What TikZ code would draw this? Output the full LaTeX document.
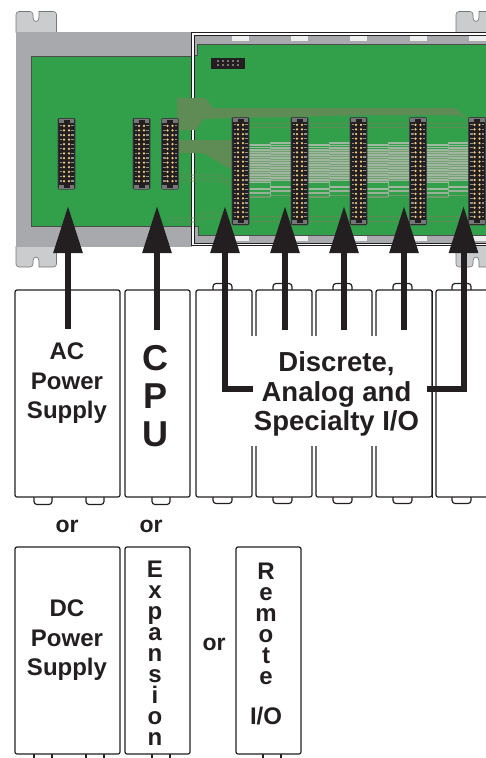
\documentclass[tikz,border=0pt]{standalone}
\usepackage{fontspec}
\setmainfont{Liberation Sans}
\usetikzlibrary{arrows.meta}
\definecolor{boardgreen}{HTML}{329F4B}
\definecolor{tracegreen}{HTML}{5E8C54}
\definecolor{bandgreen}{HTML}{74A274}
\definecolor{stripegreen}{HTML}{A0B8A0}
\definecolor{railgray}{HTML}{A7A9AC}
\definecolor{eargray}{HTML}{CBCCCE}
\definecolor{inkblack}{HTML}{231F20}
\definecolor{pingold}{HTML}{F7CE7E}
% slot on the board: name, centre x, top y, number of pin rows
\newcommand{\slotnode}[4]{
	\pgfmathsetmacro{\slotlen}{#4*4.6+11}
	\node[slotbox, minimum height=\slotlen pt, anchor=north] (#1) at (#2,#3) {};
	\fill[railgray!70!black] ([xshift=1pt,yshift=-1pt]#1.north west) rectangle ([xshift=-1pt,yshift=-5pt]#1.north east);
	\fill[railgray!70!black] ([xshift=1pt,yshift=1pt]#1.south west) rectangle ([xshift=-1pt,yshift=5pt]#1.south east);
	\fill[inkblack] ([xshift=-3pt,yshift=-2pt]#1.north) rectangle ([xshift=3pt,yshift=-5pt]#1.north);
	\fill[inkblack] ([xshift=-3pt,yshift=2pt]#1.south) rectangle ([xshift=3pt,yshift=5pt]#1.south);
	\foreach \row in {1,...,#4} {
		\draw[railgray!85!black, line width=1.1pt] (#2-7,#3+3.2+\row*4.6) -- (#2-4.5,#3+3.2+\row*4.6);
		\draw[railgray!85!black, line width=1.1pt] (#2+4.5,#3+3.2+\row*4.6) -- (#2+7,#3+3.2+\row*4.6);
		\fill[pingold] (#2-2.5,#3+3.2+\row*4.6) circle (1.25pt);
		\fill[pingold] (#2+2.5,#3+3.2+\row*4.6) circle (1.25pt);
	}
}
% mounting ear, drawn from its outer edge towards the rail
\newcommand{\earpath}{
	\draw[fill=eargray, draw=railgray!70!black, line width=0.6pt, rounded corners=3pt]
		(0,21) -- (0,0) -- (17,0) [sharp corners] -- (17,6) arc (180:360:3 and -4) -- (23,0)
		[rounded corners=3pt] -- (40.5,0) -- (40.5,21);
}
\begin{document}
\begin{tikzpicture}[x=1pt, y=-1pt, >=latex,
	slotbox/.style={shape=rectangle, rounded corners=1pt, draw=railgray!40!black, fill=inkblack, line width=0.7pt, minimum width=17pt, inner sep=0pt},
	modbox/.style={shape=rectangle, rounded corners=2pt, draw=inkblack, fill=white, line width=1.2pt, inner sep=0pt},
	modtab/.style={draw=inkblack, fill=white, line width=1.2pt, rounded corners=3pt},
	boldtext/.style={align=center, inner sep=0pt, text=inkblack, font=\bfseries\fontsize{24}{29.5}\selectfont},
	lettertext/.style={align=center, inner sep=0pt, text=inkblack, font=\bfseries\fontsize{24}{21}\selectfont},
	ortext/.style={inner sep=0pt, text=inkblack, font=\bfseries\fontsize{23}{26}\selectfont},
	feedarrow/.style={draw=inkblack, line width=6pt, -{Triangle[width=28pt,length=47pt]}}]
	\useasboundingbox (0,0) rectangle (486,758);
	\clip (0,0) rectangle (486,758);
	% ears and rail
	\begin{scope}[shift={(16,11.5)}]
		\earpath
	\end{scope}
	\begin{scope}[shift={(456,11.5)}]
		\earpath
	\end{scope}
	\begin{scope}[shift={(16,267)}, yscale=-1]
		\earpath
	\end{scope}
	\begin{scope}[shift={(456,267)}, yscale=-1]
		\earpath
	\end{scope}
	\fill[railgray] (16,32) rectangle (192,247);
	\draw[inkblack!80, line width=0.8pt, fill=boardgreen] (31,56) -- (192,56) -- (192,226) -- (31,226) -- cycle;
	\draw[inkblack, line width=1pt, fill=white] (191.5,32.5) rectangle (486.5,245.5);
	\fill[railgray] (194.5,35) rectangle (487,243);
	\foreach \gapx in {232,291,350,410,469} {
		\fill[white!80!railgray] (\gapx,36) rectangle +(16.5,5);
		\fill[white!80!railgray] (\gapx,236) rectangle +(16.5,5);
	}
	\draw[inkblack!80, line width=0.8pt, fill=boardgreen] (487,44) -- (197,44) -- (197,55.5) -- (194.5,55.5) -- (194.5,226.5) -- (198,226.5) -- (198,235) -- (487,235);
	\draw[inkblack, line width=0.8pt] (194.5,35) -- (194.5,243) -- (487,243) (194.5,35) -- (487,35);
	% traces
	\fill[tracegreen] (177,98) -- (205,98) -- (213,108) -- (455,108) -- (468,119) -- (457,115) -- (401,115) -- (408,118.5) -- (400,115) -- (345,115.5) -- (352,118.5) -- (343,115.5) -- (287,117) -- (232,118) -- (203,119) -- (196,130) -- (177,130) -- cycle;
	\fill[tracegreen] (177,140) -- (232,140) -- (232,170) -- (203,153) -- (177,153) -- cycle;
	\foreach \startx in {249,308,367,427} {
		\fill[bandgreen] (\startx,150) rectangle (\startx+21,183);
		\fill[bandgreen] (\startx+21,148) rectangle (\startx+42,181);
		\foreach \stripey in {145,147.5,...,183} {
			\draw[stripegreen, line width=1.1pt] (\startx,\stripey) -- (\startx+21,\stripey) (\startx+21,\stripey-2) -- (\startx+42,\stripey-2);
		}
		\draw[stripegreen, line width=1.4pt] (\startx,189) -- (\startx+21,189) (\startx+21,187) -- (\startx+42,187);
		\draw[stripegreen!85!tracegreen, line width=1.2pt] (\startx,193) -- (\startx+21,193) (\startx+21,191) -- (\startx+42,191);
		\draw[tracegreen!70!stripegreen, line width=1.4pt] (\startx,197) -- (\startx+21,197) (\startx+21,195.5) -- (\startx+42,195.5);
		\draw[stripegreen!80!tracegreen, line width=1pt] (\startx+21,143) -- (\startx+21,197);
		\draw[tracegreen, line width=0.6pt] (\startx,123) -- +(42,0) (\startx,127) -- +(42,0) (\startx,216) -- +(42,0) (\startx,221) -- +(42,0);
	}
	\draw[tracegreen, line width=0.7pt] (178,175) -- (222,175) -- (232,183) (178,178) -- (222,178) -- (232,186) (178,181) -- (222,181) -- (232,189);
	\draw[tracegreen, line width=0.7pt] (168,218) -- (197,218) -- (203,213) -- (232,213) (168,222) -- (197,222) -- (203,218) -- (232,218);
	% header block
	\node[shape=rectangle, fill=inkblack, minimum width=34pt, minimum height=11pt, inner sep=0pt] (hdr) at (228,63) {};
	\foreach \pinx in {218,223,...,238} {
		\fill[eargray] (\pinx,61) circle (0.9pt);
		\fill[eargray] (\pinx,65) circle (0.9pt);
	}
	% slots
	\slotnode{slotac}{66.5}{118}{13}
	\slotnode{slotcpua}{141.5}{118}{13}
	\slotnode{slotcpub}{170}{118}{13}
	\slotnode{slotioa}{240.5}{117}{21}
	\slotnode{slotiob}{299.5}{117}{21}
	\slotnode{slotioc}{358.5}{117}{21}
	\slotnode{slotiod}{418}{117}{21}
	\slotnode{slotioe}{477}{117}{21}
	% modules, tabs first
	\foreach \tabx in {213,273,333,393,452} {
		\draw[modtab] (\tabx,292) -- (\tabx,283.5) -- (\tabx+19,283.5) -- (\tabx+19,292);
		\draw[modtab] (\tabx,495) -- (\tabx,503.5) -- (\tabx+19,503.5) -- (\tabx+19,495);
	}
	\foreach \tabx in {34,86,152} {
		\draw[modtab] (\tabx,495) -- (\tabx,504.5) -- (\tabx+18,504.5) -- (\tabx+18,495);
		\draw[modtab] (\tabx,754) -- (\tabx,765) (\tabx+18,754) -- (\tabx+18,765);
	}
	\draw[modtab] (263,754) -- (263,765) (281,754) -- (281,765);
	\node[modbox, minimum width=105pt, minimum height=207pt] (acmod) at (67.5,393.5) {};
	\node[modbox, minimum width=65pt, minimum height=207pt] (cpumod) at (157.5,393.5) {};
	\node[modbox, minimum width=56pt, minimum height=207pt] (iomoda) at (224,393.5) {};
	\node[modbox, minimum width=56pt, minimum height=207pt] (iomodb) at (284,393.5) {};
	\node[modbox, minimum width=56pt, minimum height=207pt] (iomodc) at (344,393.5) {};
	\node[modbox, minimum width=56pt, minimum height=207pt] (iomodd) at (404,393.5) {};
	\node[modbox, minimum width=70pt, minimum height=207pt] (iomode) at (471,393.5) {};
	\node[modbox, minimum width=105pt, minimum height=207pt] (dcmod) at (67.5,650.5) {};
	\node[modbox, minimum width=65pt, minimum height=207pt] (expmod) at (157.5,650.5) {};
	\node[modbox, minimum width=65pt, minimum height=207pt] (remmod) at (268.5,650.5) {};
	% label patch over the I/O modules
	\node[shape=rectangle, fill=white, minimum width=181pt, minimum height=110pt, inner sep=0pt] (iopatch) at (340.5,391) {};
	\draw[inkblack, line width=1.2pt] (iomodd.north east) ++(0,2) -- (iomodd.south east);
	% arrows
	\coordinate (tipac) at (68,206);
	\coordinate (tipcpu) at (157,206);
	\coordinate (tipa) at (225,206);
	\coordinate (tipb) at (285,206);
	\coordinate (tipc) at (344,206);
	\coordinate (tipd) at (404,206);
	\coordinate (tipe) at (463.5,206);
	\coordinate (stemac) at (68,329);
	\coordinate (stemcpu) at (157,330);
	\coordinate (stemb) at (285,330);
	\coordinate (stemc) at (344,330);
	\coordinate (stemd) at (404,330);
	\draw[feedarrow] (stemac) -- (tipac);
	\draw[feedarrow] (stemcpu) -- (tipcpu);
	\draw[feedarrow] (stemb) -- (tipb);
	\draw[feedarrow] (stemc) -- (tipc);
	\draw[feedarrow] (stemd) -- (tipd);
	% labels
	\node[boldtext] (aclabel) at (67,383.5) {AC\\Power\\Supply};
	\node[align=center, inner sep=0pt, text=inkblack, font=\bfseries\fontsize{36}{38}\selectfont] (cpulabel) at (155.5,396) {C\\P\\U};
	\node[boldtext, font=\bfseries\fontsize{27.5}{29.5}\selectfont] (iolabel) at (336.5,394) {Discrete,\\Analog and\\Specialty I/O};
	\node[boldtext] (dclabel) at (67,640.5) {DC\\Power\\Supply};
	\node[lettertext] (explabel) at (155,653) {E\\x\\p\\a\\n\\s\\i\\o\\n};
	\node[lettertext] (remlabel) at (266,644) {R\\e\\m\\o\\t\\e\\[19pt]I/O};
	\node[ortext] (ordc) at (67,526.5) {or};
	\node[ortext] (orexp) at (151,526.5) {or};
	\node[ortext] (orrem) at (214,644.5) {or};
	\coordinate (elbowa) at (225,388.5);
	\coordinate (elbowe) at (463.5,389);
	\draw[feedarrow] (iopatch.west |- elbowa) ++(3.5,0) -- (elbowa) -- (tipa);
	\draw[feedarrow] (iopatch.east |- elbowe) ++(-4,0) -- (elbowe) -- (tipe);
\end{tikzpicture}
\end{document}
